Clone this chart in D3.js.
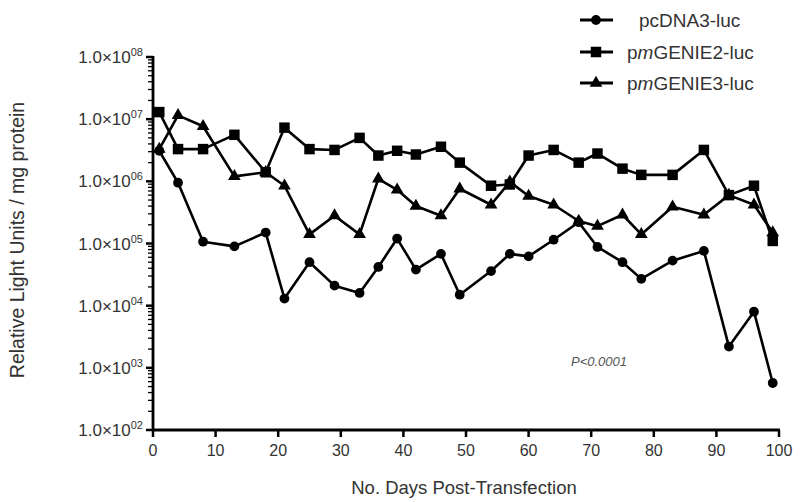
<!DOCTYPE html>
<html>
<head>
<meta charset="utf-8">
<script src="https://cdn.jsdelivr.net/npm/d3@7"></script>
<style>
  body { margin: 0; background: #fff; }
  text { font-family: "Liberation Sans", Arial, sans-serif; fill: #333; }
</style>
</head>
<body>
<svg id="chart" width="800" height="502"></svg>
<script>
// days post-transfection (shared by all three series)
var days = [1,4,8,13,18,21,25,29,33,36,39,42,46,49,54,57,60,64,68,71,75,78,83,88,92,96,99];

var pcDNA3 = [3.1e6,9.5e5,1.07e5,9e4,1.5e5,1.3e4,5e4,2.1e4,1.6e4,4.2e4,1.2e5,3.8e4,6.8e4,1.5e4,
  3.6e4,6.8e4,6.2e4,1.15e5,2.2e5,8.8e4,5e4,2.7e4,5.3e4,7.6e4,2.2e3,8e3,5.7e2];
var pmGENIE2 = [1.3e7,3.3e6,3.3e6,5.6e6,1.4e6,7.3e6,3.3e6,3.2e6,5e6,2.6e6,3.1e6,2.7e6,3.6e6,2e6,
  8.5e5,8.9e5,2.6e6,3.2e6,2e6,2.8e6,1.6e6,1.27e6,1.27e6,3.2e6,6e5,8.5e5,1.1e5];
var pmGENIE3 = [3.3e6,1.15e7,7.7e6,1.2e6,1.4e6,8.5e5,1.4e5,2.8e5,1.4e5,1.1e6,7.3e5,4e5,2.8e5,7.6e5,
  4.2e5,9.8e5,5.8e5,4.2e5,2.3e5,1.9e5,2.9e5,1.4e5,3.9e5,2.9e5,6e5,4.2e5,1.5e5];

var seriesNames = ["pcDNA3-luc", "pmGENIE2-luc", "pmGENIE3-luc"];
var xTicks = [0,10,20,30,40,50,60,70,80,90,100];
var yTicks = [1e2,1e3,1e4,1e5,1e6,1e7,1e8];

var svg = d3.select("#chart");

var x = d3.scaleLinear().domain([0,100]).range([153,779]);
var y = d3.scaleLog().domain([1e2,1e8]).range([430,57]);

// y axis with log minor ticks
var minor = [];
for (var e = 2; e < 8; e++) {
  for (var m = 2; m <= 9; m++) minor.push(m * Math.pow(10, e));
}
svg.append("g").selectAll("line").data(minor).enter().append("line")
  .attr("x1", 148).attr("x2", 153)
  .attr("y1", function(d){ return y(d); }).attr("y2", function(d){ return y(d); })
  .attr("stroke", "#000").attr("stroke-width", 1.3);

svg.append("g").selectAll("line").data(yTicks).enter().append("line")
  .attr("x1", 146).attr("x2", 153)
  .attr("y1", function(d){ return y(d); }).attr("y2", function(d){ return y(d); })
  .attr("stroke", "#000").attr("stroke-width", 2.5);

svg.append("line").attr("x1", 153).attr("x2", 153).attr("y1", y(1e8) - 1).attr("y2", y(1e2) + 1)
  .attr("stroke", "#000").attr("stroke-width", 2.8);

var yl = svg.append("g").selectAll("text").data(yTicks).enter().append("text")
  .attr("x", 143).attr("y", function(d){ return y(d) + 6; })
  .attr("text-anchor", "end").attr("font-size", 17);
yl.append("tspan").text("1.0×10");
yl.append("tspan").attr("dy", -7).attr("font-size", 11)
  .text(function(d){ return d3.format("02d")(Math.round(Math.log10(d))); });

// x axis
svg.append("line").attr("x1", 152).attr("x2", 780).attr("y1", 430).attr("y2", 430)
  .attr("stroke", "#000").attr("stroke-width", 2.8);
svg.append("g").selectAll("line").data(xTicks).enter().append("line")
  .attr("x1", function(d){ return x(d); }).attr("x2", function(d){ return x(d); })
  .attr("y1", 430).attr("y2", 437)
  .attr("stroke", "#000").attr("stroke-width", 2.5);
svg.append("g").selectAll("text").data(xTicks).enter().append("text")
  .attr("x", function(d){ return x(d); }).attr("y", 456)
  .attr("text-anchor", "middle").attr("font-size", 16)
  .text(function(d){ return d; });

svg.append("text").attr("x", 464).attr("y", 494).attr("text-anchor", "middle")
  .attr("font-size", 18.5).text("No. Days Post-Transfection");
svg.append("text").attr("transform", "translate(24,240) rotate(-90)").attr("text-anchor", "middle")
  .attr("font-size", 19.5).text("Relative Light Units / mg protein");

svg.append("text").attr("x", 571).attr("y", 366).attr("font-size", 13)
  .attr("font-style", "italic").style("fill", "#555").text("P<0.0001");

// series
var line = d3.line().x(function(d){ return x(d[0]); }).y(function(d){ return y(d[1]); });
var sym = [d3.symbolCircle, d3.symbolSquare, d3.symbolTriangle];
var symSize = [75, 110, 70];
var allSeries = [pcDNA3, pmGENIE2, pmGENIE3];

allSeries.forEach(function(vals, i){
  var pts = vals.map(function(v, j){ return [days[j], v]; });
  svg.append("path").datum(pts).attr("d", line)
    .attr("fill", "none").attr("stroke", "#000").attr("stroke-width", 2.6)
    .attr("stroke-linejoin", "round");
  svg.append("g").selectAll("path").data(pts).enter().append("path")
    .attr("d", d3.symbol().type(sym[i]).size(symSize[i]))
    .attr("transform", function(d){ return "translate(" + x(d[0]) + "," + y(d[1]) + ")"; })
    .attr("fill", "#000");
});

// legend
var legY = [20, 52, 83];
var lg = svg.append("g").selectAll("g").data(seriesNames).enter().append("g")
  .attr("transform", function(d, i){ return "translate(0," + legY[i] + ")"; });
lg.append("line").attr("x1", 580).attr("x2", 613).attr("y1", 0).attr("y2", 0)
  .attr("stroke", "#000").attr("stroke-width", 3);
lg.append("path")
  .attr("d", function(d, i){ return d3.symbol().type(sym[i]).size(symSize[i])(); })
  .attr("transform", "translate(596,0)").attr("fill", "#000");
var lt = lg.append("text").attr("x", function(d, i){ return i === 0 ? 639 : 627; })
  .attr("y", 7).attr("font-size", 19);
lt.each(function(d){
  var t = d3.select(this);
  if (d.indexOf("pm") === 0) {
    t.append("tspan").text("p");
    t.append("tspan").attr("font-style", "italic").text("m");
    t.append("tspan").text(d.slice(2));
  } else {
    t.text(d);
  }
});
</script>
</body>
</html>
